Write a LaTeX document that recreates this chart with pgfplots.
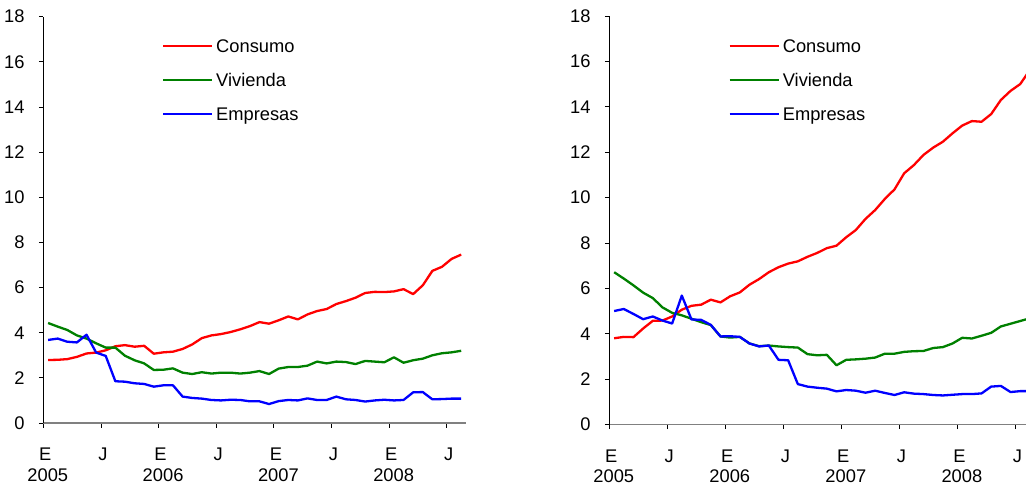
\documentclass[border=0pt]{standalone}
\usepackage{fontspec}
\setmainfont{Liberation Sans}
\usepackage{pgfplots}
\usepackage{pgfplotstable}
\pgfplotsset{compat=1.18}
\definecolor{cred}{RGB}{255,0,0}
\definecolor{cgreen}{RGB}{0,128,0}
\definecolor{cblue}{RGB}{0,0,255}
\definecolor{axgray}{RGB}{128,128,128}

\pgfplotstableread{
x c v e
0.5 2.79 4.43 3.68
1.5 2.80 4.27 3.74
2.5 2.83 4.12 3.60
3.5 2.93 3.88 3.57
4.5 3.08 3.74 3.91
5.5 3.12 3.53 3.12
6.5 3.22 3.34 2.97
7.5 3.40 3.34 1.85
8.5 3.45 2.98 1.83
9.5 3.38 2.78 1.76
10.5 3.42 2.64 1.73
11.5 3.07 2.35 1.61
12.5 3.13 2.36 1.67
13.5 3.16 2.42 1.67
14.5 3.28 2.23 1.17
15.5 3.48 2.17 1.11
16.5 3.76 2.25 1.08
17.5 3.88 2.19 1.02
18.5 3.94 2.23 1.00
19.5 4.03 2.23 1.03
20.5 4.15 2.19 1.02
21.5 4.29 2.23 0.96
22.5 4.47 2.30 0.96
23.5 4.40 2.17 0.84
24.5 4.55 2.41 0.97
25.5 4.72 2.48 1.02
26.5 4.59 2.48 1.00
27.5 4.81 2.54 1.09
28.5 4.96 2.72 1.02
29.5 5.05 2.64 1.02
30.5 5.27 2.72 1.17
31.5 5.40 2.70 1.05
32.5 5.55 2.61 1.02
33.5 5.76 2.75 0.95
34.5 5.81 2.72 1.00
35.5 5.80 2.69 1.03
36.5 5.83 2.91 1.00
37.5 5.93 2.67 1.02
38.5 5.71 2.78 1.36
39.5 6.10 2.85 1.37
40.5 6.74 3.00 1.05
41.5 6.92 3.09 1.06
42.5 7.27 3.13 1.08
43.5 7.46 3.20 1.08
}\leftdata

\pgfplotstableread{
x c v e
0.5 3.80 6.71 5.00
1.5 3.86 6.43 5.09
2.5 3.85 6.13 4.87
3.5 4.23 5.81 4.64
4.5 4.57 5.57 4.76
5.5 4.58 5.16 4.58
6.5 4.76 4.92 4.45
7.5 5.06 4.81 5.68
8.5 5.23 4.66 4.63
9.5 5.28 4.51 4.61
10.5 5.50 4.38 4.39
11.5 5.38 3.88 3.88
12.5 5.65 3.83 3.89
13.5 5.82 3.86 3.86
14.5 6.16 3.57 3.57
15.5 6.41 3.45 3.44
16.5 6.71 3.48 3.48
17.5 6.93 3.44 2.85
18.5 7.09 3.41 2.83
19.5 7.19 3.39 1.78
20.5 7.39 3.10 1.67
21.5 7.56 3.05 1.62
22.5 7.77 3.07 1.58
23.5 7.88 2.61 1.46
24.5 8.25 2.85 1.52
25.5 8.57 2.87 1.49
26.5 9.06 2.90 1.40
27.5 9.45 2.95 1.49
28.5 9.94 3.12 1.39
29.5 10.36 3.12 1.30
30.5 11.07 3.20 1.42
31.5 11.43 3.23 1.36
32.5 11.88 3.24 1.34
33.5 12.20 3.37 1.30
34.5 12.46 3.41 1.28
35.5 12.83 3.57 1.31
36.5 13.17 3.82 1.34
37.5 13.37 3.79 1.34
38.5 13.34 3.91 1.37
39.5 13.68 4.04 1.67
40.5 14.30 4.32 1.70
41.5 14.70 4.44 1.43
42.5 15.00 4.56 1.47
43.5 15.62 4.68 1.47
}\rightdata

\pgfplotsset{
 panel/.style={
  scale only axis, anchor=south west,
  xmin=0, ymin=0, ymax=18,
  axis x line*=bottom, axis y line*=left,
  x axis line style={draw=axgray, line width=1.1pt},
  y axis line style={draw=black, line width=0.8pt},
  tick align=outside, major tick length=4.5pt,
  tick style={black, line width=0.8pt},
  xtick={0,6,...,42}, xticklabels={E,J,E,J,E,J,E,J},
  ytick={0,2,...,18},
  /pgf/number format/assume math mode=true,
  tick label style={font=\fontsize{18.3}{22}\selectfont},
  xticklabel style={anchor=base, inner sep=0pt, yshift=-33pt, xshift=2pt},
  yticklabel style={anchor=east, inner sep=0pt, xshift=-14pt},
  extra x ticks={0,12,24,36}, extra x tick labels={2005,2006,2007,2008},
  extra x tick style={major tick length=0pt, xticklabel style={yshift=-25pt, xshift=2.5pt}},
  legend cell align=left,
  legend image code/.code={\draw[##1, line width=2.3pt] (0pt,0pt) -- (49pt,0pt);},
  legend style={draw=none, fill=none, inner sep=0pt, anchor=north west,
    row sep=20.8pt, font=\fontsize{18.3}{22}\selectfont,
    nodes={inner sep=0pt, text height=13.2pt, text depth=0pt},
    /tikz/every odd column/.append style={column sep=3pt}},
  every axis plot/.append style={line width=2.3pt, line join=round},
 }
}

\begin{document}
\begin{tikzpicture}[x=1pt,y=1pt]
\useasboundingbox (0,0) rectangle (1026,485);
\begin{axis}[panel, at={(43.3pt,62pt)}, width=422.7pt, height=406.3pt, xmax=44,
  legend style={at={(0.2801,0.9441)}}]
\addplot[cred] table[x=x,y=c] {\leftdata};
\addplot[cgreen] table[x=x,y=v] {\leftdata};
\addplot[cblue] table[x=x,y=e] {\leftdata};
\legend{Consumo,Vivienda,Empresas}
\end{axis}
\begin{axis}[panel, at={(609.3pt,60.5pt)}, width=416.7pt, height=408.5pt, xmax=43.1,
  legend style={at={(0.2856,0.9427)}}]
\addplot[cred] table[x=x,y=c] {\rightdata};
\addplot[cgreen] table[x=x,y=v] {\rightdata};
\addplot[cblue] table[x=x,y=e] {\rightdata};
\legend{Consumo,Vivienda,Empresas}
\end{axis}
\end{tikzpicture}
\end{document}
